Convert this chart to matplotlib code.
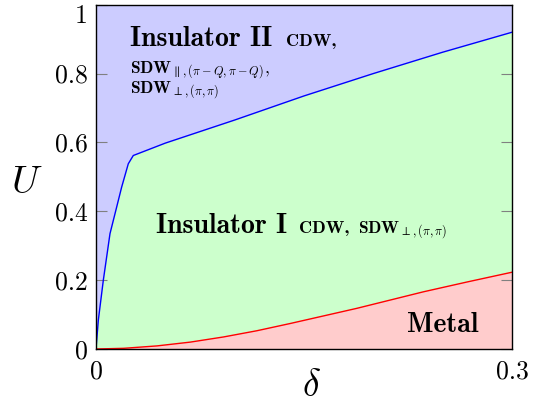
import matplotlib
matplotlib.use('Agg')
import matplotlib.pyplot as plt

plt.rcParams['mathtext.fontset'] = 'cm'
plt.rcParams['font.family'] = 'cmr10'
plt.rcParams['axes.formatter.use_mathtext'] = True

# Phase boundaries
blue_delta = [0, 0.0017, 0.0053, 0.0101, 0.0149, 0.0185, 0.0233, 0.0269,
              0.05, 0.1, 0.15, 0.2, 0.25, 0.3]
blue_U = [0, 0.084, 0.2, 0.335, 0.412, 0.47, 0.538, 0.562,
          0.598, 0.665, 0.735, 0.800, 0.862, 0.92]
red_delta = [0, 0.02, 0.044, 0.068, 0.092, 0.116, 0.14, 0.164, 0.188,
             0.212, 0.236, 0.268, 0.3]
red_U = [0, 0.002, 0.009, 0.02, 0.035, 0.053, 0.074, 0.096, 0.118,
         0.142, 0.166, 0.195, 0.223]

yticks = [0, 0.2, 0.4, 0.6, 0.8, 1]
ytick_labels = ['0', '0.2', '0.4', '0.6', '0.8', '1']
xticks = [0, 0.3]
xtick_labels = ['0', '0.3']

fig = plt.figure(figsize=(5.46, 4.09), dpi=100)
ax = fig.add_axes([0.1758, 0.1467, 0.9377 - 0.1758, 0.9885 - 0.1467])

# regions
ax.fill(list(blue_delta) + [0.3, 0], list(blue_U) + [1, 1], color='#ccccff', lw=0)
ax.fill(list(blue_delta) + red_delta[::-1], list(blue_U) + red_U[::-1],
        color='#ccffcc', lw=0)
ax.fill(list(red_delta) + [0.3], list(red_U) + [0], color='#ffcccc', lw=0)
ax.plot(blue_delta, blue_U, color='#0000ff', lw=1)
ax.plot(red_delta, red_U, color='#ff0000', lw=1)

ax.set_xlim(0, 0.3)
ax.set_ylim(0, 1)
ax.set_xticks(xticks)
ax.set_xticklabels(xtick_labels)
ax.set_yticks(yticks)
ax.set_yticklabels(ytick_labels)
ax.tick_params(axis='both', direction='in', length=8, width=0.8, color='#808080',
               labelsize=18.5, right=True)
ax.tick_params(axis='x', length=0, pad=8)
ax.tick_params(axis='y', pad=6)
ax.get_yticklabels()[-1].set_va('top')
for s in ax.spines.values():
    s.set_linewidth(1)

ax.set_xlabel(r'$\delta$', fontsize=27, va='center')
ax.set_ylabel(r'$U$', fontsize=28, rotation=0, va='center', ha='center')
ax.xaxis.set_label_coords(0.517, -0.11)
ax.yaxis.set_label_coords(-0.166, 0.481)

# labels
ax.text(0.0245, 0.881, 'Insulator II', family='cmb10', fontsize=20, va='baseline')
ax.text(0.137, 0.881, 'CDW,', family='cmb10', fontsize=13, va='baseline')
ax.text(0.0245, 0.801, r'$\mathbf{SDW}_{\parallel,(\pi-Q,\pi-Q)},$', fontsize=12.5,
        va='baseline')
ax.text(0.0245, 0.743, r'$\mathbf{SDW}_{\perp,(\pi,\pi)}$', fontsize=12.5,
        va='baseline')
ax.text(0.0433, 0.336, 'Insulator I', family='cmb10', fontsize=20, va='baseline')
ax.text(0.1464, 0.336, 'CDW,', family='cmb10', fontsize=13, va='baseline')
ax.text(0.189, 0.336, r'$\mathbf{SDW}_{\perp,(\pi,\pi)}$', fontsize=12.5,
        va='baseline')
ax.text(0.2243, 0.049, 'Metal', family='cmb10', fontsize=20, va='baseline')

fig.savefig('out.png', dpi=100)
